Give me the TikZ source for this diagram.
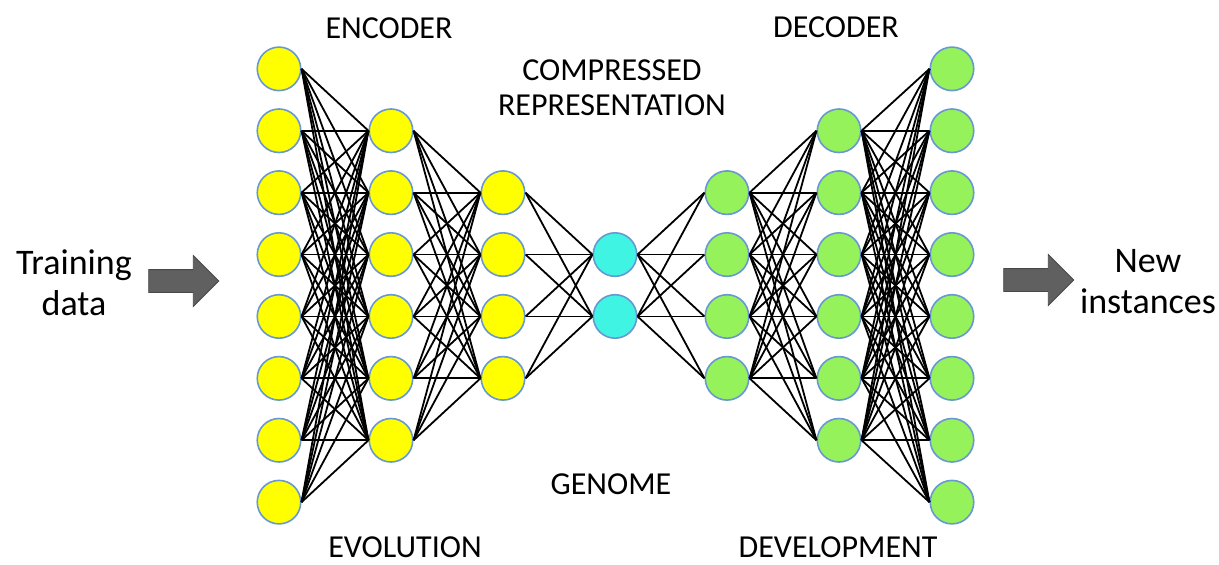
\documentclass[tikz,border=0pt]{standalone}
\usepackage{fontspec}
\setmainfont{Carlito}
\usetikzlibrary{positioning, shapes.arrows}

\definecolor{encfill}{RGB}{255,255,0}
\definecolor{codefill}{RGB}{64,244,228}
\definecolor{decfill}{RGB}{150,242,90}
\definecolor{ringcol}{RGB}{104,152,210}
\definecolor{arrowfill}{RGB}{96,96,96}
\definecolor{arrowline}{RGB}{72,72,72}

\tikzset{
  neuron/.style={circle, draw=ringcol, line width=1.6pt, minimum size=43.5pt, inner sep=0pt},
  link/.style={line width=1.8pt, black},
  title/.style={font=\fontsize{32}{35}\selectfont, align=center},
  side/.style={font=\fontsize{36}{41}\selectfont, align=center},
  bigarrow/.style={single arrow, fill=arrowfill, draw=arrowline, line width=0.8pt,
    minimum height=70pt, single arrow head extend=14pt, inner sep=11pt}
}

\begin{document}
\begin{tikzpicture}[x=1pt, y=-1pt]
    \useasboundingbox (0,0) rectangle (1219,565);

    % Layers of neurons
    \foreach \layer/\n/\x/\col in {ea/8/279/encfill, eb/6/391/encfill, ec/4/503/encfill,
                                   cc/2/615/codefill,
                                   dc/4/727/decfill, db/6/839/decfill, da/8/952/decfill} {
      \foreach \i in {1,...,\n} {
        \node[neuron, fill=\col] (\layer\i) at (\x, {285.5 + (\i - (\n+1)/2)*61.9}) {};
      }
    }

    % Fully connected links between neighbouring layers
    \foreach \a/\na/\b/\nb in {ea/8/eb/6, eb/6/ec/4, ec/4/cc/2, cc/2/dc/4, dc/4/db/6, db/6/da/8} {
      \foreach \i in {1,...,\na} {
        \foreach \j in {1,...,\nb} {
          \draw[link] (\a\i.east) -- (\b\j.west);
        }
      }
    }

    % Labels
    \node[title] (encoder) at (389,28) {ENCODER};
    \node[title] (decoder) at (836,27) {DECODER};
    \node[title] (compressed) at (612,88) {COMPRESSED\\REPRESENTATION};
    \node[title] (genome) at (611,484) {GENOME};
    \node[title] (evolution) at (405,547) {EVOLUTION};
    \node[title] (development) at (838,547) {DEVELOPMENT};

    % Input and output
    \node[side] (training) at (74,283) {Training\\data};
    \node[bigarrow] (inarrow) at (178,281) {};
    \node[bigarrow] (outarrow) at (1033,280) {};
    \node[side] (instances) at (1148,282) {New\\instances};

  \end{tikzpicture}
\end{document}
